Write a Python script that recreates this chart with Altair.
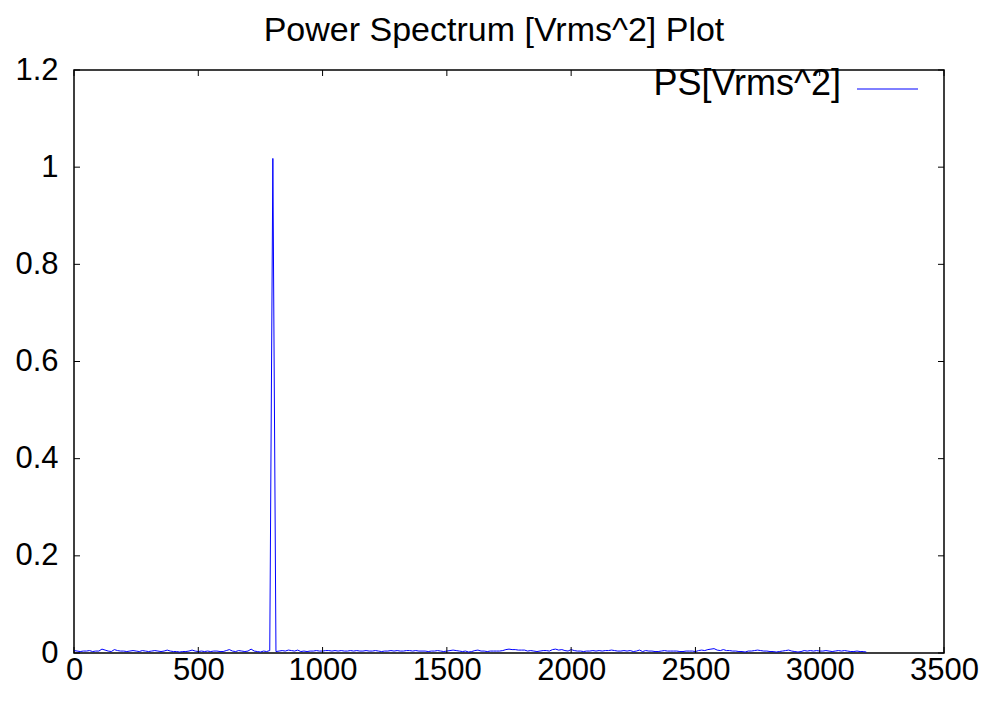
import altair as alt
import pandas as pd

# ---- data (power spectrum in milli-Vrms^2, one value per 12.5 Hz bin) ----
bin_hz = 12.5
ps_milli = [
    5, 4, 3, 4, 4, 5, 3, 4, 4, 8, 6, 4, 3, 7, 5, 4,
    4, 3, 4, 5, 4, 3, 5, 4, 3, 4, 5, 4, 3, 4, 6, 4,
    3, 3, 2, 3, 3, 4, 6, 4, 3, 4, 3, 4, 3, 4, 4, 3,
    3, 5, 7, 4, 3, 5, 4, 3, 4, 8, 4, 3, 2, 4, 3, 5,
    1018,
    3, 4, 5, 4, 6, 5, 4, 6, 3, 4, 3, 4, 4, 5, 4,
    4, 5, 5, 4, 5, 4, 5, 4, 4, 5, 4, 5, 4, 4, 5, 4,
    4, 5, 4, 3, 4, 4, 5, 4, 5, 4, 4, 5, 5, 4, 5, 4,
    4, 4, 3, 4, 4, 5, 4, 3, 4, 5, 6, 5, 4, 3, 4, 2,
    3, 5, 6, 4, 4, 3, 4, 4, 4, 4, 5, 7, 8, 7, 7, 6,
    6, 6, 4, 5, 4, 3, 4, 5, 5, 4, 7, 8, 6, 7, 5, 4,
    7, 5, 4, 4, 3, 4, 4, 5, 4, 5, 4, 5, 5, 6, 5, 4,
    4, 5, 4, 5, 3, 4, 6, 3, 5, 4, 4, 3, 3, 4, 5, 4,
    4, 4, 4, 3, 3, 4, 4, 4, 3, 5, 6, 5, 7, 8, 9, 6,
    5, 7, 5, 5, 4, 4, 3, 3, 2, 4, 4, 5, 6, 5, 4, 4,
    3, 3, 2, 3, 4, 5, 6, 4, 3, 2, 3, 5, 4, 5, 4, 5,
    4, 4, 5, 4, 3, 4, 5, 4, 5, 4, 3, 3, 4, 3, 3, 2,
]
x_ticks = [0, 500, 1000, 1500, 2000, 2500, 3000, 3500]
y_ticks = [0, 0.2, 0.4, 0.6, 0.8, 1.0, 1.2]
title_text = "Power Spectrum [Vrms^2] Plot"
legend_label = ["PS[Vrms^2]"]

df = pd.DataFrame({
    "freq": [i * bin_hz for i in range(len(ps_milli))],
    "ps": [v / 1000.0 for v in ps_milli],
})
xt = pd.DataFrame({"freq": x_ticks})
yt = pd.DataFrame({"ps": y_ticks})
leg = pd.DataFrame({"label": legend_label})

FONT = "Liberation Sans"
W, H = 870, 583
TICK = 6

xs = alt.Scale(domain=[0, 3500], nice=False, zero=False)
ys = alt.Scale(domain=[0, 1.2], nice=False, zero=False)

x_axis = alt.Axis(
    values=x_ticks, title=None, tickSize=0, domain=False, grid=False,
    format="d", labelFontSize=31, labelFont=FONT, labelColor="black",
    labelPadding=2, labelFlush=False, labelOverlap=False)
y_axis = alt.Axis(
    values=y_ticks, title=None, tickSize=0, domain=False, grid=False,
    format="~g", labelFontSize=31, labelFont=FONT, labelColor="black",
    labelPadding=16, labelFlush=False, labelOverlap=False)

X = alt.X("freq:Q", scale=xs, axis=x_axis)
Y = alt.Y("ps:Q", scale=ys, axis=y_axis)

line = alt.Chart(df).mark_line(color="#0000ff", strokeWidth=1, clip=True).encode(x=X, y=Y)

xb = alt.Chart(xt).mark_rule(color="black", strokeWidth=1).encode(
    x=X, y=alt.value(H), y2=alt.value(H - TICK))
xtop = alt.Chart(xt).mark_rule(color="black", strokeWidth=1).encode(
    x=X, y=alt.value(0), y2=alt.value(TICK))
yl = alt.Chart(yt).mark_rule(color="black", strokeWidth=1).encode(
    y=Y, x=alt.value(0), x2=alt.value(TICK))
yr = alt.Chart(yt).mark_rule(color="black", strokeWidth=1).encode(
    y=Y, x=alt.value(W - TICK), x2=alt.value(W))

leg_text = alt.Chart(leg).mark_text(
    align="right", baseline="middle", font=FONT, fontSize=36, color="black"
).encode(text="label:N", x=alt.value(767), y=alt.value(14))
leg_line = alt.Chart(leg).mark_rule(color="#0000ff", strokeWidth=1).encode(
    x=alt.value(783), x2=alt.value(844), y=alt.value(19))

chart = alt.layer(line, xb, xtop, yl, yr, leg_text, leg_line).properties(
    width=W, height=H,
    title=alt.TitleParams(title_text, font=FONT, fontSize=34, fontWeight="normal",
                          color="black", anchor="middle", dx=-15, offset=6),
    autosize=alt.AutoSizeParams(type="none"),
    padding={"left": 66, "top": 62, "right": 40, "bottom": 41},
    background="white",
).configure_view(stroke="black", strokeWidth=1.5)

chart.save("out.html", embed_options={"renderer": "svg", "actions": False})
